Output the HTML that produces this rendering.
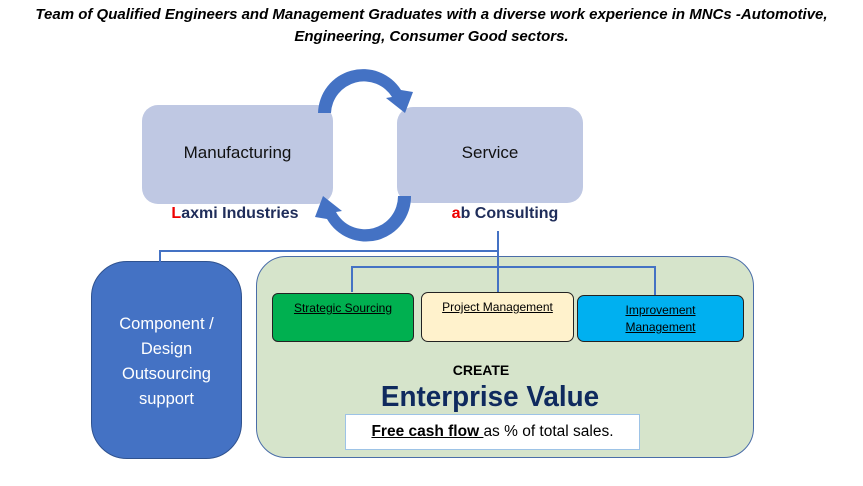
<!DOCTYPE html>
<html><head><style>
body{margin:0;width:863px;height:486px;background:#fff;position:relative;overflow:hidden;font-family:"Liberation Sans",sans-serif}
.a{position:absolute}
.t{font-family:"Liberation Sans",sans-serif}
</style></head><body>
<div class="a" style="left:0;top:4px;width:863px;text-align:center;font-weight:bold;font-style:italic;font-size:15px;line-height:22px;color:#000">Team of Qualified Engineers and Management Graduates with a diverse work experience in MNCs -Automotive,<br>Engineering, Consumer Good sectors.</div>
<div class="a" style="left:142px;top:105px;width:191px;height:99px;background:#bfc8e3;border-radius:16px"></div>
<div class="a" style="left:397px;top:107px;width:186px;height:96px;background:#bfc8e3;border-radius:16px"></div>
<div class="a t" style="left:142px;top:143px;width:191px;text-align:center;font-size:17px;color:#111">Manufacturing</div>
<div class="a t" style="left:397px;top:143px;width:186px;text-align:center;font-size:17px;color:#111">Service</div>
<div class="a" style="left:160px;top:205px;width:150px;text-align:center;font-weight:bold;font-size:16px;color:#1f2d5a"><span style="color:#e00">L</span>axmi Industries</div>
<div class="a" style="left:430px;top:205px;width:150px;text-align:center;font-weight:bold;font-size:16px;color:#1f2d5a"><span style="color:#e00">a</span>b Consulting</div>
<div class="a" style="left:91px;top:261px;width:151px;height:198px;background:#4472c4;border:1px solid #2f528f;box-sizing:border-box;border-radius:36px"></div>
<div class="a t" style="left:91px;top:312px;width:151px;text-align:center;font-size:16.5px;line-height:25px;color:#fff">Component /<br>Design<br>Outsourcing<br>support</div>
<div class="a" style="left:256px;top:256px;width:498px;height:202px;background:#d6e4cb;border:1px solid #4a6da8;box-sizing:border-box;border-radius:30px"></div>
<svg class="a" style="left:0;top:0" width="863" height="486">
<g fill="none" stroke="#4472c4" stroke-width="2">
<polyline points="160,262 160,251 498,251"/>
<line x1="498" y1="231" x2="498" y2="293"/>
<polyline points="352,292 352,267 655,267 655,295"/>
</g>
<g fill="#4472c4">
<path d="M318,113 A45,45 0 0 1 401,90 L413,92 L405,113 L386,98 L392,97 A33,33 0 0 0 331,113 Z"/>
<path d="M411,196 A45,45 0 0 1 327,219 L315,217 L323,196 L342,211 L336,212 A33,33 0 0 0 398,196 Z"/>
</g>
</svg>
<div class="a t" style="left:272px;top:293px;width:142px;height:49px;background:#00b050;border:1px solid #222;box-sizing:border-box;border-radius:6px;text-align:center;font-size:12px;padding-top:7px;text-decoration:underline">Strategic Sourcing</div>
<div class="a t" style="left:421px;top:292px;width:153px;height:50px;background:#fff2cc;border:1px solid #222;box-sizing:border-box;border-radius:7px;text-align:center;font-size:12px;padding-top:7px;text-decoration:underline">Project Management</div>
<div class="a t" style="left:577px;top:295px;width:167px;height:47px;background:#00b0f0;border:1px solid #222;box-sizing:border-box;border-radius:7px;text-align:center;font-size:12px;line-height:17px;padding-top:6px;text-decoration:underline">Improvement<br>Management</div>
<div class="a" style="left:400px;top:362px;width:162px;text-align:center;font-weight:bold;font-size:14px">CREATE</div>
<div class="a t" style="left:330px;top:381px;width:320px;text-align:center;font-weight:bold;font-size:29px;color:#0f2a5e;transform:scaleX(0.96)">Enterprise Value</div>
<div class="a t" style="left:345px;top:414px;width:295px;height:36px;background:#fff;border:1px solid #9dc3e6;box-sizing:border-box;text-align:center;font-size:15.5px;line-height:34px"><b style="text-decoration:underline">Free cash flow </b>as % of total sales.</div>
</body></html>
